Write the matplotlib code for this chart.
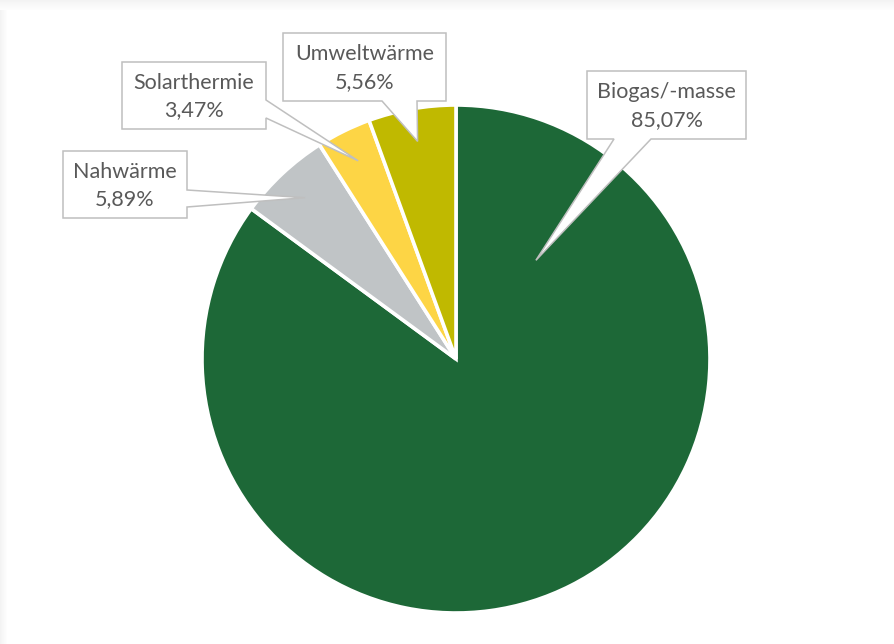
import matplotlib
matplotlib.use("Agg")
import matplotlib.pyplot as plt
from matplotlib.patches import Polygon, Rectangle
import numpy as np

# ---- data ----
categories = ["Biogas/-masse", "Nahwärme", "Solarthermie", "Umweltwärme"]
values = [85.07, 5.89, 3.47, 5.56]
pct_labels = ["85,07%", "5,89%", "3,47%", "5,56%"]
colors = ["#1d6837", "#c0c4c6", "#fdd545", "#c0b900"]

W, H = 894, 644
fig = plt.figure(figsize=(W / 100, H / 100), dpi=100)
fig.patch.set_facecolor("white")
ax = fig.add_axes([0, 0, 1, 1])

def Y(y):
    return H - y

# soft shadow frame at top and left
for i in range(10):
    a = 0.10 * (1 - i / 10)
    ax.add_patch(Rectangle((0, Y(i + 1)), W, 1, facecolor="#909090", alpha=a,
                           edgecolor="none", zorder=0))
for i in range(7):
    a = 0.10 * (1 - i / 7)
    ax.add_patch(Rectangle((i, 0), 1, Y(10), facecolor="#909090", alpha=a,
                           edgecolor="none", zorder=0))

cx, cy, R = 456, Y(359), 254
wedges, _ = ax.pie(values, colors=colors, startangle=90, counterclock=False,
                   center=(cx, cy), radius=R,
                   wedgeprops=dict(edgecolor="white", linewidth=2.6))
for w in wedges:
    w.set_zorder(2)

ax.set_xlim(0, W)
ax.set_ylim(0, H)
ax.set_aspect("equal")
ax.axis("off")

def tip_for(i, frac=0.87, ang=None):
    w = wedges[i]
    if ang is None:
        ang = (w.theta1 + w.theta2) / 2
    t = np.deg2rad(ang)
    return (cx + frac * R * np.cos(t), cy + frac * R * np.sin(t))

# callout layouts: box (left, top, right, bottom) in pixel coords (y down)
boxes = [
    dict(box=(587, 71, 746, 139), side="bottom", base=(614, 651), tip=tip_for(0, 0.5, 51)),
    dict(box=(63, 151, 187, 218), side="right", base=(190, 207), tip=tip_for(1)),
    dict(box=(122, 62, 266, 129), side="right", base=(100, 118), tip=tip_for(2)),
    dict(box=(283, 33, 446, 101), side="bottom", base=(382, 417), tip=tip_for(3)),
]

for i, b in enumerate(boxes):
    l, t, r, bt = b["box"]
    tx, ty = b["tip"]
    if b["side"] == "bottom":
        x1, x2 = b["base"]
        pts = [(l, Y(t)), (r, Y(t)), (r, Y(bt)), (x2, Y(bt)), (tx, ty),
               (x1, Y(bt)), (l, Y(bt))]
    else:
        y1, y2 = b["base"]
        pts = [(l, Y(t)), (r, Y(t)), (r, Y(y1)), (tx, ty), (r, Y(y2)),
               (r, Y(bt)), (l, Y(bt))]
    ax.add_patch(Polygon(pts, closed=True, facecolor="white", edgecolor="#bfbfbf",
                         linewidth=1.1, zorder=3, joinstyle="miter"))
    mx = (l + r) / 2
    my = (t + bt) / 2
    ax.text(mx, Y(my - 13), categories[i], ha="center", va="center",
            fontsize=15.5, color="#595959", family="Lato", zorder=4)
    ax.text(mx, Y(my + 15), pct_labels[i], ha="center", va="center",
            fontsize=15.5, color="#595959", family="Lato", zorder=4)

fig.savefig("out.png", dpi=100)
